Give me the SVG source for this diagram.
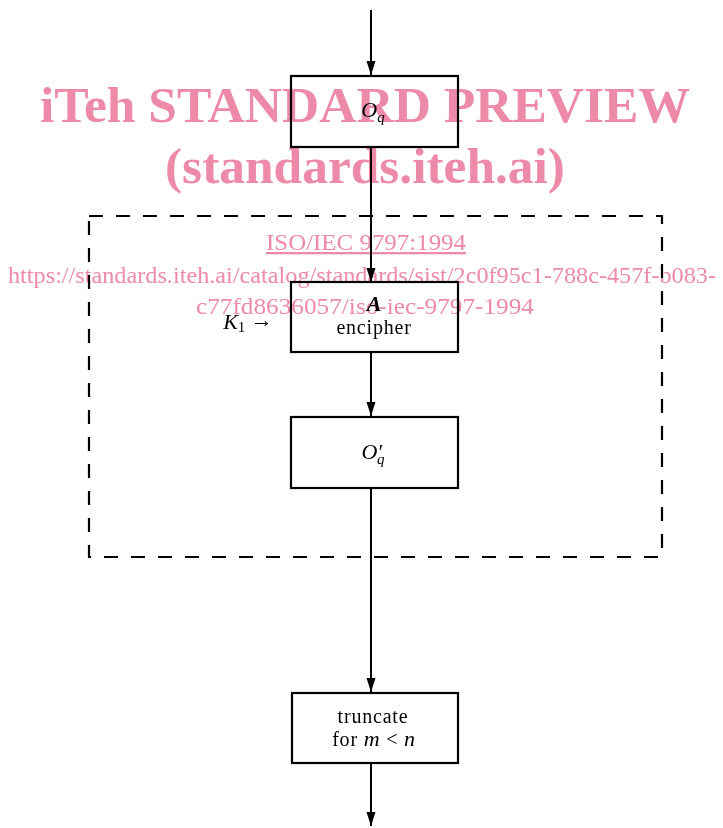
<svg xmlns="http://www.w3.org/2000/svg" width="723" height="828" viewBox="0 0 723 828">
<style>
.box{fill:#fff;stroke:#000;stroke-width:2.2}
.ln{stroke:#000;stroke-width:2;fill:none}
.t{font-family:"Liberation Serif","DejaVu Serif",serif;font-size:20px;fill:#000;text-anchor:middle;letter-spacing:0.8px}
.m{font-family:"Liberation Serif","DejaVu Serif",serif;font-size:22px;fill:#000;font-style:italic;text-anchor:middle}
.wm{font-family:"Liberation Serif",serif;fill:#ec8aa8;text-anchor:middle}
</style>
<defs>
<marker id="ah" viewBox="0 0 14 10" refX="14" refY="5" markerWidth="14" markerHeight="10" markerUnits="userSpaceOnUse" orient="auto">
<path d="M0,0.5 L14,5 L0,9.5 Z" fill="#000"/>
</marker>
</defs>
<rect x="89" y="216" width="573" height="341" fill="none" stroke="#000" stroke-width="2.2" stroke-dasharray="14,13"/>
<g id="connectors">
<line class="ln" x1="371" y1="10" x2="371" y2="75" marker-end="url(#ah)"/>
<line class="ln" x1="371" y1="147" x2="371" y2="282" marker-end="url(#ah)"/>
<line class="ln" x1="371" y1="352" x2="371" y2="416" marker-end="url(#ah)"/>
<line class="ln" x1="371" y1="488" x2="371" y2="692" marker-end="url(#ah)"/>
<line class="ln" x1="371" y1="763" x2="371" y2="826" marker-end="url(#ah)"/>
</g>
<g id="n_oq">
<rect class="box" x="291" y="76" width="167" height="71"/>
<text class="m" x="373" y="117">O<tspan font-size="15" dy="5">q</tspan></text>
</g>
<g id="n_enc">
<rect class="box" x="291" y="282" width="167" height="70"/>
<text class="m" x="374" y="311" font-weight="bold">A</text>
<text class="t" x="374" y="334">encipher</text>
</g>
<g id="k1">
<text class="m" x="248" y="329">K<tspan font-style="normal" font-size="15" dy="3">1</tspan><tspan dy="-5" font-style="normal" font-size="22"> →</tspan></text>
</g>
<g id="n_oq2">
<rect class="box" x="291" y="417" width="167" height="71"/>
<text class="m" x="373" y="459">O′<tspan font-size="15" dy="5" dx="-5">q</tspan></text>
</g>
<g id="n_trunc">
<rect class="box" x="292" y="693" width="166" height="70"/>
<text class="t" x="373" y="723">truncate</text>
<text class="t" x="374" y="746">for <tspan font-style="italic" font-size="22">m</tspan> &lt; <tspan font-style="italic" font-size="22">n</tspan></text>
</g>
<g id="watermark" style="mix-blend-mode:multiply">
<text class="wm" x="365" y="122" font-size="50" font-weight="bold" textLength="650" lengthAdjust="spacingAndGlyphs">iTeh STANDARD PREVIEW</text>
<text class="wm" x="365" y="183" font-size="50" font-weight="bold" textLength="400" lengthAdjust="spacingAndGlyphs">(standards.iteh.ai)</text>
<text class="wm" x="366" y="250" font-size="23" text-decoration="underline" textLength="200" lengthAdjust="spacingAndGlyphs">ISO/IEC 9797:1994</text>
<text class="wm" x="362" y="283" font-size="24" textLength="708" lengthAdjust="spacingAndGlyphs">https://standards.iteh.ai/catalog/standards/sist/2c0f95c1-788c-457f-b083-</text>
<text class="wm" x="365" y="314" font-size="24" textLength="338" lengthAdjust="spacingAndGlyphs">c77fd8636057/iso-iec-9797-1994</text>
</g>
</svg>
